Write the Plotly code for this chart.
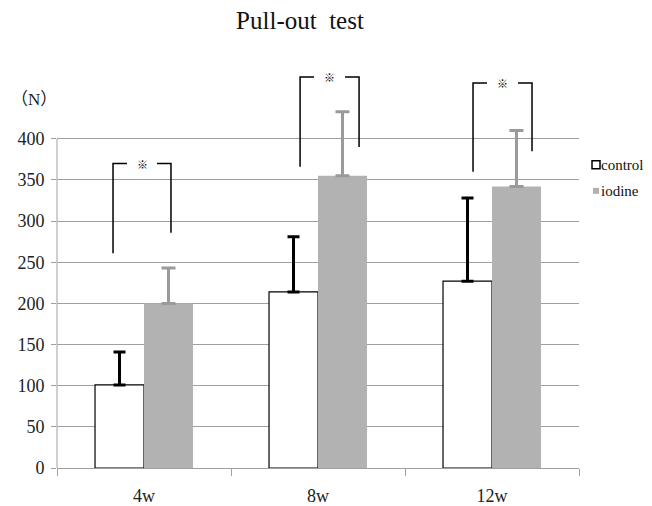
import plotly.graph_objects as go

# ---- data ----
categories = ["4w", "8w", "12w"]
control_mean = [101, 214, 227]
control_err = [40, 67, 101]
iodine_mean = [200, 355, 342]
iodine_err = [43, 78, 68]
y_ticks = [0, 50, 100, 150, 200, 250, 300, 350, 400]

# significance brackets (values in N)
bracket_top = [370, 475, 468]
bracket_left_bottom = [261, 366, 360]
bracket_right_bottom = [286, 390, 385]
bracket_label = ["※", "※", "※"]

SERIF = "Liberation Serif, Times New Roman, serif"
OFF = 8  # page body margin
PX_PER_N = (468 - 139) / 400
Y_MAX = 480
W, H = 652 - OFF, 506 - OFF
ML = 57 - OFF
MT = (468 - Y_MAX * PX_PER_N) - OFF
MR = W - (579 - OFF)
MB = H - (468 - OFF)
plot_w = W - ML - MR
ph = H - MT - MB


def px_x(xpx):
    return (xpx - OFF - ML) / plot_w


def px_y(ypx):
    return (H - MB - (ypx - OFF)) / ph


fig = go.Figure()
fig.add_trace(go.Bar(
    name="control", x=categories, y=control_mean,
    marker=dict(color="white", line=dict(color="black", width=1.2)),
    error_y=dict(type="data", array=control_err, arrayminus=[0] * 3, symmetric=False,
                 color="black", thickness=3, width=6),
))
fig.add_trace(go.Bar(
    name="iodine", x=categories, y=iodine_mean,
    marker=dict(color="#b2b2b2", line=dict(color="#b2b2b2", width=0)),
    error_y=dict(type="data", array=iodine_err, arrayminus=[0] * 3, symmetric=False,
                 color="#9a9a9a", thickness=3, width=7),
))

# bracket horizontal offsets from category centre (category units)
left_off = [-0.178, -0.103, -0.109]
right_off = [0.155, 0.236, 0.230]
seg = 14 / plot_w * 3  # in category units

shapes = []
annotations = []
for i in range(len(categories)):
    xl = i + left_off[i]
    xr = i + right_off[i]
    line = dict(color="black", width=1.5)
    shapes.append(dict(type="path", xref="x", yref="y",
                       path=f"M {xl} {bracket_left_bottom[i]} L {xl} {bracket_top[i]} "
                            f"L {xl + seg} {bracket_top[i]}", line=line))
    shapes.append(dict(type="path", xref="x", yref="y",
                       path=f"M {xr - seg} {bracket_top[i]} L {xr} {bracket_top[i]} "
                            f"L {xr} {bracket_right_bottom[i]}", line=line))
    annotations.append(dict(xref="x", yref="y", x=(xl + xr) / 2, y=bracket_top[i],
                            text=bracket_label[i], showarrow=False,
                            font=dict(size=11, color="#000", family="Noto Sans CJK JP"),
                            xanchor="center", yanchor="middle"))

# left axis line only up to the last tick
shapes.append(dict(type="line", xref="paper", yref="y", x0=0, x1=0, y0=0, y1=y_ticks[-1],
                   line=dict(color="#a0a0a0", width=1)))

# unit label
annotations.append(dict(xref="paper", yref="paper", x=px_x(9), y=px_y(100),
                        text="（N）", showarrow=False, xanchor="left", yanchor="middle",
                        font=dict(size=17, color="#222", family=SERIF + ", Noto Sans CJK JP")))

# manual legend
leg_items = [("control", "white", "black", 8, 165), ("iodine", "#b2b2b2", "#b2b2b2", 6, 191)]
for name, fill, edge, size, ypx in leg_items:
    x0 = 592 + (8 - size) / 2
    shapes.append(dict(type="rect", xref="paper", yref="paper",
                       x0=px_x(x0), x1=px_x(x0 + size),
                       y0=px_y(ypx + size / 2), y1=px_y(ypx - size / 2),
                       fillcolor=fill, line=dict(color=edge, width=1.5 if edge == "black" else 0)))
    annotations.append(dict(xref="paper", yref="paper", x=px_x(599),
                            y=px_y(ypx), text=name, showarrow=False,
                            xanchor="left", yanchor="middle",
                            font=dict(size=15, color="#111", family=SERIF)))

fig.update_layout(
    width=W, height=H,
    margin=dict(l=ML, r=MR, t=MT, b=MB, pad=0, autoexpand=False),
    paper_bgcolor="white", plot_bgcolor="white",
    barmode="group", bargap=0.437, bargroupgap=0,
    showlegend=False,
    title=dict(text="Pull-out  test", x=(300 - OFF) / W, xref="container", xanchor="center",
               y=1 - (20 - OFF) / H, yref="container", yanchor="middle",
               font=dict(size=25, color="#111", family=SERIF)),
    shapes=shapes, annotations=annotations,
    font=dict(family=SERIF, color="#222"),
)
fig.update_xaxes(
    type="category", range=[-0.5, 2.5], showgrid=False, automargin=False,
    showline=True, linecolor="#a0a0a0", linewidth=1,
    ticks="outside", tickson="boundaries", ticklen=7, tickcolor="#a0a0a0",
    tickfont=dict(size=18, color="#222", family=SERIF), ticklabelstandoff=11,
)
fig.update_yaxes(
    range=[0, Y_MAX], tickvals=y_ticks, showgrid=True, gridcolor="#a0a0a0", gridwidth=1,
    showline=False, automargin=False,
    ticks="outside", ticklen=5, tickcolor="#a0a0a0", zeroline=False,
    tickfont=dict(size=18, color="#222", family=SERIF), ticklabelstandoff=3,
)

fig.write_html("out.html")
